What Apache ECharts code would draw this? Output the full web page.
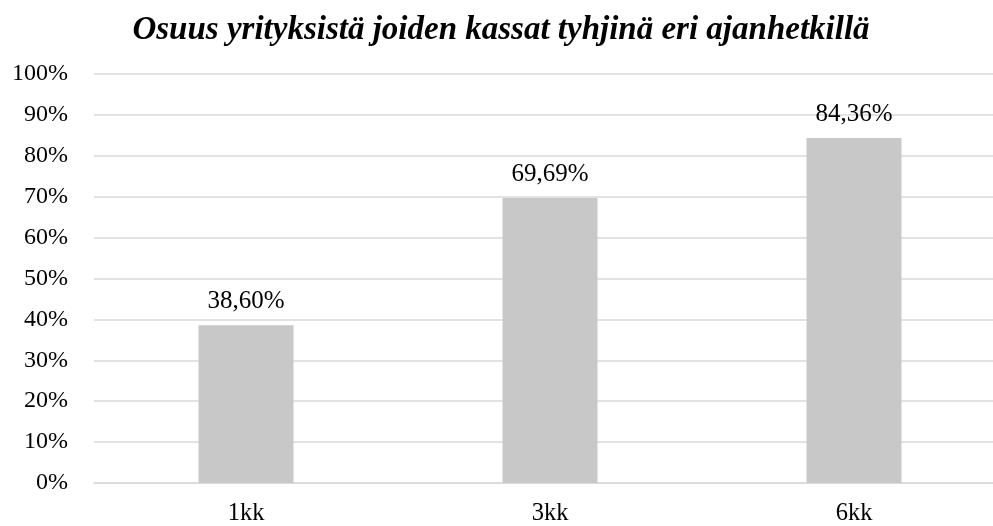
<!DOCTYPE html>
<html>
<head>
<meta charset="utf-8">
<script src="https://cdn.jsdelivr.net/npm/echarts@6/dist/echarts.min.js"></script>
<style>
	html, body { margin: 0; padding: 0; background: #fff; overflow: hidden; }
	#chart { width: 1006px; height: 526px; }
</style>
</head>
<body>
<div id="chart"></div>
<script>
const categories = ['1kk', '3kk', '6kk'];
const shares = [38.60, 69.69, 84.36];
const yTicks = [0, 10, 20, 30, 40, 50, 60, 70, 80, 90, 100];

document.addEventListener('DOMContentLoaded', () => {
	const font = '"Liberation Serif", "Times New Roman", serif';
	const chart = echarts.init(document.querySelector('#chart'));
	chart.setOption({
		animation: false,
		title: {
			text: 'Osuus yrityksistä joiden kassat tyhjinä eri ajanhetkillä',
			left: 496,
			textAlign: 'center',
			top: 9,
			textStyle: {
				fontFamily: font,
				fontSize: 33,
				fontStyle: 'italic',
				fontWeight: 'bold',
				color: '#000'
			}
		},
		grid: {
			left: 94,
			right: 0,
			top: 74,
			bottom: 41
		},
		xAxis: {
			type: 'category',
			data: categories,
			axisTick: { show: false },
			axisLine: { lineStyle: { color: '#d9d9d9', width: 1.5 } },
			axisLabel: {
				fontFamily: font,
				fontSize: 24.5,
				color: '#000',
				margin: 18
			}
		},
		yAxis: {
			type: 'value',
			min: yTicks[0],
			max: yTicks[yTicks.length - 1],
			interval: 10,
			axisLine: { show: false },
			axisTick: { show: false },
			splitLine: { lineStyle: { color: '#d9d9d9', width: 1.5 } },
			axisLabel: {
				fontFamily: font,
				fontSize: 24,
				color: '#000',
				margin: 26,
				formatter: v => `${v}%`
			}
		},
		series: [
			{
				type: 'bar',
				data: shares,
				barWidth: 95,
				itemStyle: { color: '#c8c8c8' },
				label: {
					show: true,
					position: 'top',
					distance: 11,
					fontFamily: font,
					fontSize: 25,
					color: '#000',
					formatter: p => p.value.toFixed(2).replace('.', ',') + '%'
				}
			}
		]
	});
});
</script>
</body>
</html>
